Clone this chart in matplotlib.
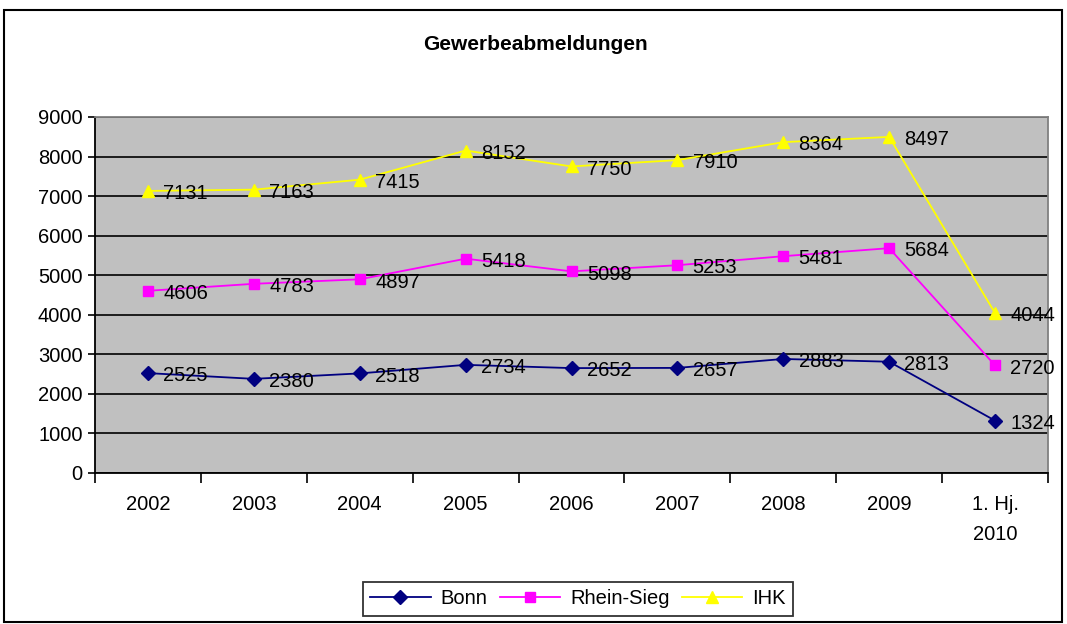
import matplotlib
matplotlib.use("Agg")
import matplotlib.pyplot as plt
from matplotlib.patches import Rectangle

plt.rcParams["font.family"] = ["Liberation Sans", "DejaVu Sans"]

categories = ["2002", "2003", "2004", "2005", "2006", "2007", "2008", "2009", "1. Hj.\n2010"]
bonn = [2525, 2380, 2518, 2734, 2652, 2657, 2883, 2813, 1324]
rhein_sieg = [4606, 4783, 4897, 5418, 5098, 5253, 5481, 5684, 2720]
ihk = [7131, 7163, 7415, 8152, 7750, 7910, 8364, 8497, 4044]

series = [
    ("Bonn", bonn, "#000080", "D", 7),
    ("Rhein-Sieg", rhein_sieg, "#FF00FF", "s", 7),
    ("IHK", ihk, "#FFFF00", "^", 9),
]

W, H = 1067, 624
FS = 14.5
fig = plt.figure(figsize=(W / 100, H / 100), dpi=100)
ax = fig.add_axes([95 / W, 1 - 473 / H, (1048 - 95) / W, (473 - 117) / H])
ax.set_facecolor("#C0C0C0")

x = list(range(len(categories)))
for name, vals, col, mk, ms in series:
    ax.plot(x, vals, color=col, marker=mk, markersize=ms, linewidth=1.3,
            label=name, zorder=3)
    for xi, v in zip(x, vals):
        ax.annotate(str(v), (xi, v), xytext=(11, -2), textcoords="offset points",
                    ha="left", va="center", fontsize=FS, zorder=4)

ax.set_xlim(-0.5, len(categories) - 0.5)
ax.set_ylim(0, 9000)
ax.set_yticks(range(0, 9001, 1000))
ax.yaxis.grid(True, color="black", linewidth=1.2)
ax.set_axisbelow(True)
ax.tick_params(axis="y", labelsize=FS, direction="out", length=5, width=1.2, pad=4)

# category ticks sit between categories, labels in the middle
ax.set_xticks([i - 0.5 for i in range(len(categories) + 1)])
ax.set_xticklabels([])
ax.set_xticks(x, minor=True)
ax.set_xticklabels(categories, minor=True, fontsize=FS, linespacing=1.75, va="top")
ax.tick_params(axis="x", which="major", direction="out", length=7, width=1.2)
ax.tick_params(axis="x", which="minor", length=0, pad=16)

for s in ["left", "bottom"]:
    ax.spines[s].set_color("black")
    ax.spines[s].set_linewidth(1.3)
for s in ["top", "right"]:
    ax.spines[s].set_color("#808080")
    ax.spines[s].set_linewidth(1.3)

fig.text(535 / W, 1 - 44 / H, "Gewerbeabmeldungen", ha="center", va="center",
         fontsize=15, fontweight="bold")

leg = ax.legend(loc="center", bbox_to_anchor=(578 / W, 1 - 599 / H),
                bbox_transform=fig.transFigure, ncol=3, fontsize=FS, frameon=True,
                fancybox=False, edgecolor="black", handlelength=3.0,
                columnspacing=0.6, handletextpad=0.5, borderpad=0.35)
leg.get_frame().set_linewidth(1.3)

fig.patches.append(Rectangle((4 / W, 1 - 622 / H), (1062 - 4) / W, (622 - 10) / H,
                             transform=fig.transFigure, fill=False,
                             edgecolor="black", linewidth=1.5))

fig.savefig("out.png", dpi=100)
